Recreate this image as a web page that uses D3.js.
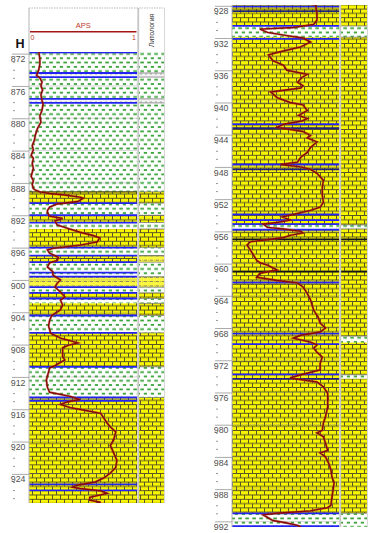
<!DOCTYPE html>
<html>
<head>
<meta charset="utf-8">
<script src="https://cdn.jsdelivr.net/npm/d3@7"></script>
<style>
  body { margin: 0; background: #fff; }
  svg { display: block; font-family: "Liberation Sans", Arial, sans-serif; }
</style>
</head>
<body>
<svg id="chart" width="370" height="533"></svg>
<script>
const depthLabels = [872, 876, 880, 884, 888, 892, 896, 900, 904, 908, 912, 916, 920, 924,
  928, 932, 936, 940, 944, 948, 952, 956, 960, 964, 968, 972, 976, 980, 984, 988, 992];

// lithology of the APS track (each layer runs down to the next top)
const layerTop = [871.8, 874.4, 874.9, 877.6, 878.1, 889.1, 890.5, 892.0, 892.9, 893.7, 896.0,
  897.0, 897.8, 899.6, 900.9, 901.6, 902.3, 902.9, 904.4, 906.55, 910.75, 914.55, 930.5, 931.9,
  955.2, 955.7, 991.0];
const layerRock = ["sh", "th", "sh", "th", "sh", "ls", "sh", "ls", "sh", "ls", "sh",
  "ls", "sh", "dl", "sh", "ls", "sh", "ls", "sh", "ls", "sh", "ls", "sh", "ls",
  "sh", "ls", "sh"];
const logBase = 992.7;

// where the lithology column differs from the track
const colTop = [897.0, 969.0, 973.8];
const colBase = [897.8, 969.8, 974.3];
const colRock = ["dl", "sh", "sh"];

// layer boundary lines
const lineDepth = [871.85, 874.4, 874.9, 877.6, 878.1, 889.1, 890.5, 892.0, 892.9, 896.0, 897.0,
  897.8, 899.1, 899.6, 900.9, 901.6, 902.3, 904.4, 906.55, 910.75, 914.55, 914.95, 925.3,
  926.05, 928.1, 928.65, 930.5, 932.1, 942.7, 943.2, 947.7, 948.3, 953.9, 954.6, 955.1,
  955.8, 957.0, 961.0, 962.35, 968.7, 970.0, 973.75, 974.3, 991.0, 992.6];
const lineKind = ["b", "b", "b", "b", "b", "o", "b", "b", "b", "b", "b",
  "b", "b", "b", "b", "b", "b", "b", "b", "b", "b", "b", "b",
  "b", "b", "n", "b", "b", "b", "n", "b", "n", "b", "b", "b",
  "b", "k", "k", "b", "b", "b", "b", "n", "b", "b"];

// APS curve
const apsDepth = [871.8, 872.6, 873.3, 874.0, 874.7, 875.0, 875.5, 876.0, 876.5, 877.1, 877.8,
  878.2, 879.0, 879.7, 880.5, 881.2, 882.0, 882.7, 883.4, 883.9, 884.6, 884.95, 885.6, 886.2,
  886.7, 887.2, 887.7, 888.2, 888.7, 888.9, 889.1, 889.3, 889.5, 889.76, 889.9, 890.3, 890.6,
  891.0, 891.4, 891.7, 892.1, 892.4, 892.7, 893.2, 893.6, 894.1, 894.5, 894.8, 895.3, 895.7,
  896.1, 896.3, 896.7, 897.2, 897.6, 897.9, 898.4, 899.0, 899.4, 900.0, 900.4, 900.9, 901.5,
  902.1, 902.5, 903.1, 903.7, 904.4, 905.0, 905.7, 906.6, 907.2, 907.6, 907.8, 908.1, 908.4,
  908.9, 909.5, 909.9, 910.2, 910.6, 910.9, 911.4, 912.4, 913.3, 913.9, 914.4, 914.8, 915.1,
  915.4, 915.8, 916.1, 916.5, 917.1, 917.7, 918.2, 918.8, 919.8, 920.5, 921.4, 922.3, 923.2,
  923.9, 924.5, 925.0, 925.4, 925.65, 925.8, 926.1, 926.4, 926.6, 926.9, 927.25, 927.5, 927.6,
  927.9, 928.2, 928.9, 929.8, 930.3, 930.7, 930.9, 931.3, 931.7, 932.0, 932.5, 933.1, 933.8,
  934.1, 934.8, 935.4, 936.0, 936.5, 936.9, 937.5, 937.9, 938.2, 938.7, 939.4, 940.0, 940.3,
  941.0, 941.6, 942.0, 942.3, 942.7, 943.1, 943.6, 944.1, 944.4, 944.9, 945.6, 946.2, 946.8,
  947.4, 947.7, 948.0, 948.3, 948.8, 949.65, 950.6, 951.5, 952.4, 953.0, 953.4, 953.9, 954.2,
  954.6, 954.9, 955.1, 955.5, 955.7, 956.0, 956.2, 956.5, 956.8, 957.3, 957.7, 958.3, 958.95,
  959.6, 959.9, 960.2, 960.8, 961.2, 961.7, 962.1, 962.4, 962.9, 963.7, 964.5, 965.8, 966.6,
  967.4, 968.0, 968.5, 968.9, 969.25, 969.75, 970.1, 970.5, 971.0, 971.6, 972.4, 973.2, 973.8,
  974.2, 974.7, 975.3, 976.1, 976.6, 977.8, 979.0, 979.8, 980.7, 981.0, 981.5, 982.3, 983.2,
  983.5, 984.0, 984.8, 985.6, 986.5, 987.2, 988.1, 989.0, 990.0, 990.3, 990.7, 991.0, 991.2,
  991.5, 991.9, 992.2, 992.5, 992.7];
const apsValue = [0.09, 0.10, 0.10, 0.09, 0.07, 0.10, 0.12, 0.11, 0.125, 0.11, 0.12,
  0.13, 0.12, 0.10, 0.11, 0.08, 0.06, 0.05, 0.03, 0.04, 0.02, 0.04, 0.03, 0.04,
  0.03, 0.02, 0.04, 0.03, 0.04, 0.06, 0.10, 0.19, 0.33, 0.47, 0.50, 0.45, 0.26,
  0.19, 0.17, 0.17, 0.19, 0.31, 0.24, 0.26, 0.35, 0.47, 0.59, 0.65, 0.63, 0.47,
  0.22, 0.17, 0.19, 0.27, 0.26, 0.19, 0.17, 0.22, 0.22, 0.29, 0.26, 0.24, 0.29,
  0.33, 0.29, 0.31, 0.29, 0.21, 0.19, 0.18, 0.20, 0.29, 0.40, 0.45, 0.36, 0.31,
  0.31, 0.31, 0.33, 0.29, 0.24, 0.19, 0.18, 0.16, 0.17, 0.19, 0.38, 0.47, 0.35,
  0.29, 0.38, 0.50, 0.66, 0.69, 0.72, 0.75, 0.80, 0.78, 0.75, 0.78, 0.81, 0.80,
  0.75, 0.69, 0.61, 0.44, 0.40, 0.47, 0.66, 0.72, 0.66, 0.56, 0.56, 0.66, 0.63,
  0.78, 0.78, 0.79, 0.79, 0.76, 0.57, 0.26, 0.33, 0.51, 0.66, 0.73, 0.64, 0.42,
  0.34, 0.38, 0.48, 0.51, 0.70, 0.65, 0.61, 0.66, 0.64, 0.36, 0.42, 0.54, 0.66,
  0.70, 0.62, 0.70, 0.65, 0.48, 0.42, 0.66, 0.73, 0.70, 0.79, 0.73, 0.70, 0.64,
  0.61, 0.45, 0.64, 0.73, 0.79, 0.85, 0.84, 0.84, 0.85, 0.82, 0.73, 0.57, 0.47,
  0.54, 0.42, 0.29, 0.33, 0.48, 0.64, 0.66, 0.54, 0.47, 0.17, 0.14, 0.17, 0.20,
  0.23, 0.26, 0.33, 0.42, 0.26, 0.23, 0.42, 0.61, 0.66, 0.70, 0.73, 0.76, 0.80,
  0.82, 0.87, 0.82, 0.64, 0.57, 0.73, 0.79, 0.76, 0.79, 0.84, 0.82, 0.82, 0.64,
  0.54, 0.79, 0.85, 0.89, 0.89, 0.89, 0.87, 0.85, 0.84, 0.79, 0.85, 0.87, 0.89,
  0.82, 0.87, 0.90, 0.92, 0.93, 0.95, 0.94, 0.93, 0.92, 0.89, 0.73, 0.42, 0.29,
  0.33, 0.38, 0.51, 0.61, 0.64];

// ---- layout ----
const panels = [
  { top: 871.8, base: 927.6, y0: 52, y1: 503, tx0: 29, tx1: 137.5, cx0: 139, cx1: 164.5 },
  { top: 927.9, base: 992.7, y0: 5, y1: 527, tx0: 232, tx1: 339.5, cx0: 341, cx1: 367.5 }
];

const svg = d3.select("#chart");
const defs = svg.append("defs");

// shale: white with green dashes
const shale = defs.append("pattern").attr("id", "sh")
  .attr("patternUnits", "userSpaceOnUse").attr("width", 7).attr("height", 8.6);
shale.append("rect").attr("width", 7).attr("height", 8.6).attr("fill", "#fff");
shale.append("rect").attr("x", 0.3).attr("y", 1.5).attr("width", 3.6).attr("height", 1.7).attr("fill", "#2f9f2f");
shale.append("rect").attr("x", 3.8).attr("y", 5.8).attr("width", 3.6).attr("height", 1.7).attr("fill", "#2f9f2f");

// limestone: yellow bricks
const lime = defs.append("pattern").attr("id", "ls")
  .attr("patternUnits", "userSpaceOnUse").attr("width", 8).attr("height", 8.6);
lime.append("rect").attr("width", 8).attr("height", 8.6).attr("fill", "#f8f500");
lime.append("path").attr("d", "M0,0.5H8M0,4.8H8M0.5,0.5V4.8M4.5,4.8V8.6")
  .attr("stroke", "#575426").attr("stroke-width", 1).attr("fill", "none");

// dolomitic band: yellow with dashed lines
const dolo = defs.append("pattern").attr("id", "dl")
  .attr("patternUnits", "userSpaceOnUse").attr("width", 6).attr("height", 4.3);
dolo.append("rect").attr("width", 6).attr("height", 4.3).attr("fill", "#fbf741");
dolo.append("path").attr("d", "M0,2.1H3M4.5,2.1H5.3")
  .attr("stroke", "#7a7760").attr("stroke-width", 0.9);

// thin interbed: pale grey with ticks
const thin = defs.append("pattern").attr("id", "th")
  .attr("patternUnits", "userSpaceOnUse").attr("width", 5).attr("height", 4);
thin.append("rect").attr("width", 5).attr("height", 4).attr("fill", "#f3f3f3");
thin.append("path").attr("d", "M1,1V3").attr("stroke", "#999").attr("stroke-width", 0.8);

const lineColor = { b: "#2424f2", n: "#23237a", k: "#151515", o: "#4a4a1c" };

const curve = d3.line().curve(d3.curveLinear);

panels.forEach((p, i) => {
  const y = d3.scaleLinear().domain([p.top, p.base]).range([p.y0, p.y1]);
  const x = d3.scaleLinear().domain([0, 1]).range([p.tx0, p.tx1]);

  ["t", "c"].forEach((k) => {
    const x0 = k === "t" ? p.tx0 : p.cx0;
    const x1 = k === "t" ? p.tx1 : p.cx1;
    defs.append("clipPath").attr("id", `clip${k}${i}`)
      .append("rect").attr("x", x0).attr("y", p.y0)
      .attr("width", x1 - x0).attr("height", p.y1 - p.y0);
  });

  const layers = layerTop.map((t, j) => ({
    top: t,
    base: j + 1 < layerTop.length ? layerTop[j + 1] : logBase,
    rock: layerRock[j]
  }));
  const colLayers = layers.concat(colTop.map((t, j) => ({ top: t, base: colBase[j], rock: colRock[j] })));

  // track
  const track = svg.append("g").attr("clip-path", `url(#clipt${i})`);
  track.selectAll("rect").data(layers).enter().append("rect")
    .attr("x", p.tx0).attr("width", p.tx1 - p.tx0)
    .attr("y", (d) => y(d.top))
    .attr("height", (d) => y(d.base) - y(d.top))
    .attr("fill", (d) => `url(#${d.rock})`);

  // column
  const col = svg.append("g").attr("clip-path", `url(#clipc${i})`);
  col.selectAll("rect").data(colLayers).enter().append("rect")
    .attr("x", p.cx0).attr("width", p.cx1 - p.cx0)
    .attr("y", (d) => y(d.top))
    .attr("height", (d) => y(d.base) - y(d.top))
    .attr("fill", (d) => `url(#${d.rock})`);
  col.selectAll("line.edge").data(colLayers.slice(1)).enter().append("line")
    .attr("x1", p.cx0).attr("x2", p.cx1)
    .attr("y1", (d) => y(d.top)).attr("y2", (d) => y(d.top))
    .attr("stroke", "#6a6a6a").attr("stroke-width", 0.7);

  // faint depth grid
  const ticks = depthLabels.filter((d) => d >= p.top && d <= p.base);
  track.selectAll("line.grid").data(ticks).enter().append("line")
    .attr("x1", p.tx0).attr("x2", p.tx1)
    .attr("y1", (d) => y(d)).attr("y2", (d) => y(d))
    .attr("stroke", "#888").attr("stroke-opacity", 0.35);

  // boundaries
  const bounds = lineDepth.map((d, j) => ({ d: d, k: lineKind[j] }));
  track.selectAll("line.bound").data(bounds).enter().append("line")
    .attr("x1", p.tx0).attr("x2", p.tx1)
    .attr("y1", (d) => y(d.d)).attr("y2", (d) => y(d.d))
    .attr("stroke", (d) => lineColor[d.k])
    .attr("stroke-width", (d) => (d.k === "o" ? 1.2 : 1.8));
  col.selectAll("line.bound").data(bounds.filter((d) => d.k === "k")).enter().append("line")
    .attr("x1", p.cx0).attr("x2", p.cx1)
    .attr("y1", (d) => y(d.d)).attr("y2", (d) => y(d.d))
    .attr("stroke", "#151515").attr("stroke-width", 1.6);

  // APS curve
  const pts = apsDepth.map((d, j) => [x(apsValue[j]), y(d)]);
  track.append("path").attr("d", curve(pts))
    .attr("fill", "none").attr("stroke", "#c23a2a").attr("stroke-width", 2.4).attr("stroke-opacity", 0.5);
  track.append("path").attr("d", curve(pts))
    .attr("fill", "none").attr("stroke", "#860a0a").attr("stroke-width", 1.4);

  // borders
  const top = i === 0 ? 8 : p.y0;
  svg.append("line").attr("x1", p.tx0).attr("x2", p.tx0).attr("y1", top).attr("y2", p.y1)
    .attr("stroke", "#b5b5b5");
  svg.append("line").attr("x1", (p.tx1 + p.cx0) / 2).attr("x2", (p.tx1 + p.cx0) / 2)
    .attr("y1", top).attr("y2", p.y1).attr("stroke", "#c6c6c6").attr("stroke-width", 1.8);
  svg.append("line").attr("x1", p.cx1).attr("x2", p.cx1).attr("y1", top).attr("y2", p.y1)
    .attr("stroke", "#d8d8d8");

  // depth axis
  const ax = svg.append("g").attr("transform", `translate(${p.tx0},0)`)
    .call(d3.axisLeft(y).tickValues(ticks).tickSize(17).tickFormat(d3.format("d")));
  ax.select(".domain").remove();
  ax.selectAll(".tick line").attr("stroke", "#aaa");
  ax.selectAll(".tick text").attr("x", -3.5).attr("dy", "0.92em")
    .attr("fill", "#505050").style("font-size", "8.8px");

  const minors = d3.range(Math.ceil(p.top), Math.floor(p.base) + 1).filter((d) => d % 4 !== 0);
  const mx = svg.append("g").attr("transform", `translate(${p.tx0 - 14},0)`)
    .call(d3.axisLeft(y).tickValues(minors).tickSize(2).tickFormat(""));
  mx.select(".domain").remove();
  mx.selectAll(".tick line").attr("stroke", "#999");
});

// header of the first panel
const h = panels[0];
svg.append("line").attr("x1", h.tx0).attr("x2", h.cx1).attr("y1", 8).attr("y2", 8)
  .attr("stroke", "#bbb").attr("stroke-dasharray", "1.5,1");
svg.append("text").attr("x", (h.tx0 + h.tx1) / 2).attr("y", 28)
  .attr("text-anchor", "middle").attr("fill", "#c0392b").style("font-size", "7.5px").text("APS");
svg.append("line").attr("x1", h.tx0 + 1).attr("x2", h.tx1 - 1).attr("y1", 31.7).attr("y2", 31.7)
  .attr("stroke", "#a31515").attr("stroke-width", 1.5);
svg.append("text").attr("x", h.tx0 + 1.5).attr("y", 39.5)
  .attr("fill", "#c0392b").style("font-size", "7px").text("0");
svg.append("text").attr("x", h.tx1 - 1.5).attr("y", 39.5).attr("text-anchor", "end")
  .attr("fill", "#c0392b").style("font-size", "7px").text("1");
svg.append("text").attr("x", 20).attr("y", 47.5).attr("text-anchor", "middle")
  .attr("fill", "#111").style("font-size", "12.5px").style("font-weight", "bold").text("H");
svg.append("text")
  .attr("transform", `translate(${(h.cx0 + h.cx1) / 2 + 2.5},30.5) rotate(-90)`)
  .attr("text-anchor", "middle").attr("fill", "#333").style("font-size", "7px").text("Литология");
</script>
</body>
</html>
